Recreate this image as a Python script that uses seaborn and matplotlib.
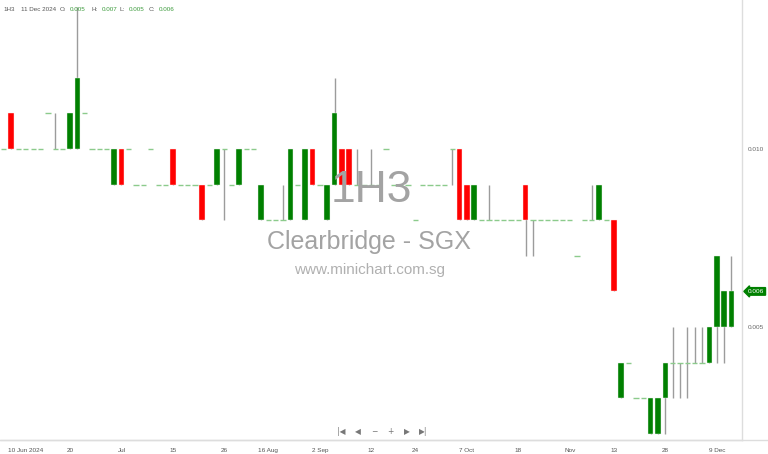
import numpy as np
import pandas as pd
import matplotlib
matplotlib.use('Agg')
import matplotlib.pyplot as plt
import matplotlib.transforms as mtransforms
from matplotlib.lines import Line2D
import seaborn as sns

sns.set_style("white")
plt.rcParams['font.family'] = ['Liberation Sans', 'DejaVu Sans']

# daily prices in thousandths (0.001 SGD), one entry per session shown
opens = [10, 11, 10, 10, 10, 10, 11, 10, 10, 10, 10, 11, 10, 10, 10, 9, 10, 10, 9, 9,
         10, 9, 9, 10, 9, 9, 9, 9, 9, 9, 10, 9, 9, 10, 10, 8, 8, 8, 8, 8,
         9, 8, 10, 9, 8, 9, 10, 10, 9, 9, 9, 9, 10, 9, 9, 9, 8, 9, 9, 9,
         9, 10, 10, 9, 8, 8, 8, 8, 8, 8, 8, 9, 8, 8, 8, 8, 8, 8, 7, 8,
         8, 8, 8, 8, 3, 4, 3, 3, 2, 2, 3, 4, 4, 4, 4, 4, 4, 5, 5, 5]
highs = [10, 11, 10, 10, 10, 10, 11, 11, 10, 11, 14, 11, 10, 10, 10, 10, 10, 10, 9, 9,
         10, 9, 9, 10, 9, 9, 9, 9, 9, 10, 10, 9, 10, 10, 10, 9, 8, 8, 9, 10,
         9, 10, 10, 9, 9, 12, 10, 10, 10, 9, 10, 9, 10, 9, 9, 9, 8, 9, 9, 9,
         9, 10, 10, 9, 9, 8, 9, 8, 8, 8, 8, 9, 8, 8, 8, 8, 8, 8, 7, 8,
         9, 9, 8, 8, 4, 4, 3, 3, 3, 3, 4, 5, 4, 5, 5, 5, 5, 7, 6, 7]
lows = [10, 10, 10, 10, 10, 10, 11, 10, 10, 10, 10, 11, 10, 10, 10, 9, 9, 10, 9, 9,
        10, 9, 9, 9, 9, 9, 9, 8, 9, 9, 8, 9, 9, 10, 10, 8, 8, 8, 8, 8,
        9, 8, 9, 9, 8, 9, 9, 9, 9, 9, 9, 9, 10, 9, 9, 9, 8, 9, 9, 9,
        9, 9, 8, 8, 8, 8, 8, 8, 8, 8, 8, 7, 7, 8, 8, 8, 8, 8, 7, 8,
        8, 8, 8, 6, 3, 4, 3, 3, 2, 2, 2, 3, 3, 3, 4, 4, 4, 4, 4, 5]
closes = [10, 10, 10, 10, 10, 10, 11, 10, 10, 11, 12, 11, 10, 10, 10, 10, 9, 10, 9, 9,
          10, 9, 9, 9, 9, 9, 9, 8, 9, 10, 10, 9, 10, 10, 10, 9, 8, 8, 8, 10,
          9, 10, 9, 9, 9, 11, 9, 9, 9, 9, 9, 9, 10, 9, 9, 9, 8, 9, 9, 9,
          9, 10, 8, 8, 9, 8, 8, 8, 8, 8, 8, 8, 8, 8, 8, 8, 8, 8, 7, 8,
          8, 9, 8, 6, 4, 4, 3, 3, 3, 3, 4, 4, 4, 4, 4, 4, 5, 7, 6, 6]

tick_pos = [3, 9, 16, 23, 30, 36, 43, 50, 56, 63, 70, 77, 83, 90, 97]
tick_labels = ['10 Jun 2024', '20', 'Jul', '15', '26', '16 Aug', '2 Sep', '12', '24',
               '7 Oct', '18', 'Nov', '13', '28', '9 Dec']
price_ticks = [0.005, 0.010]
last_price = 0.006

df = pd.DataFrame({'o': opens, 'h': highs, 'l': lows, 'c': closes}) / 1000.0
df['x'] = np.arange(len(df))

GREEN = '#008000'
RED = '#ff0000'
FLAT = '#8ccb8c'
WICK = '#9c9c9c'

fig = plt.figure(figsize=(7.68, 4.54), dpi=100)
ax = fig.add_axes([0, 14 / 454, 742 / 768, 440 / 454])

# wicks
wk = df[df['h'] > df['l']]
ax.vlines(wk['x'], wk['l'], wk['h'], color=WICK, lw=1, zorder=1)

# bodies
up = df[df['c'] > df['o']]
dn = df[df['c'] < df['o']]
ax.bar(up['x'], up['c'] - up['o'], bottom=up['o'], width=0.76, color=GREEN,
       edgecolor='#e8f3e8', linewidth=0.3, zorder=2)
ax.bar(dn['x'], dn['o'] - dn['c'], bottom=dn['c'], width=0.76, color=RED,
       edgecolor='#ffe8e8', linewidth=0.3, zorder=2)

# sessions with open == close drawn as a short flat dash
fl = df[df['c'] == df['o']]
ax.hlines(fl['o'], fl['x'] - 0.36, fl['x'] + 0.36, color=FLAT, lw=1, zorder=2)

ax.set_xlim(-0.517, 100.43)
ax.set_ylim(0.001826, 0.014185)

ax.set_xticks(tick_pos)
ax.set_xticklabels(tick_labels)
ax.yaxis.tick_right()
ax.set_yticks(price_ticks)
ax.set_yticklabels([f'{p:.3f}' for p in price_ticks])
ax.tick_params(axis='x', direction='out', length=3, width=0.6, color='#cccccc',
               labelsize=4.6, labelcolor='#555555', pad=3)
ax.tick_params(axis='y', direction='out', length=2, width=0.6, color='#bbbbbb',
               labelsize=4.6, labelcolor='#666666', pad=2)
sns.despine(ax=ax, left=True, top=True, right=False, bottom=False)
for s in ['right', 'bottom']:
    ax.spines[s].set_color('#dddddd')
    ax.spines[s].set_linewidth(1)
fig.add_artist(Line2D([0, 1], [14 / 454, 14 / 454], color='#dddddd', lw=1))

# watermark
ax.text(0.5005, 0.566, '1H3', transform=ax.transAxes, ha='center', va='center',
        fontsize=32, color='#a3a3a3', zorder=3)
ax.text(0.4975, 0.449, 'Clearbridge - SGX', transform=ax.transAxes, ha='center',
        va='center', fontsize=18, color='#a3a3a3', zorder=3)
ax.text(0.498, 0.386, 'www.minichart.com.sg', transform=ax.transAxes, ha='center',
        va='center', fontsize=11, color='#b0b0b0', zorder=3)

# header line
H = 1 - 9.5 / 454
hdr = [(3, '1H3', '#555555'), (21, '11 Dec 2024', '#555555'), (60, 'O:', '#555555'),
       (70, '0.005', '#3a9a3a'), (92, 'H:', '#555555'), (102, '0.007', '#3a9a3a'),
       (120, 'L:', '#555555'), (129, '0.005', '#3a9a3a'), (149, 'C:', '#555555'),
       (159, '0.006', '#3a9a3a')]
for px, t, col in hdr:
    fig.text(px / 768, H, t, fontsize=4.5, color=col, ha='left', va='center')

# navigation buttons
navy = 1 - 432 / 454
for px, t in [(341, '|◀'), (358, '◀'), (374, '−'), (390, '+'), (407, '▶'), (423, '▶|')]:
    fig.text(px / 768, navy, t, fontsize=5.5, color='#777777', ha='center', va='center',
             family=['DejaVu Sans'])

# last price marker
trans = mtransforms.blended_transform_factory(ax.transAxes, ax.transData)
ax.text(1.0 + 6 / 742, last_price, f'{last_price:.3f}', transform=trans, fontsize=4.6,
        color='white', ha='left', va='center', clip_on=False, zorder=5,
        bbox=dict(boxstyle='larrow,pad=0.2', fc=GREEN, ec=GREEN))

fig.savefig('out.png', dpi=100)
